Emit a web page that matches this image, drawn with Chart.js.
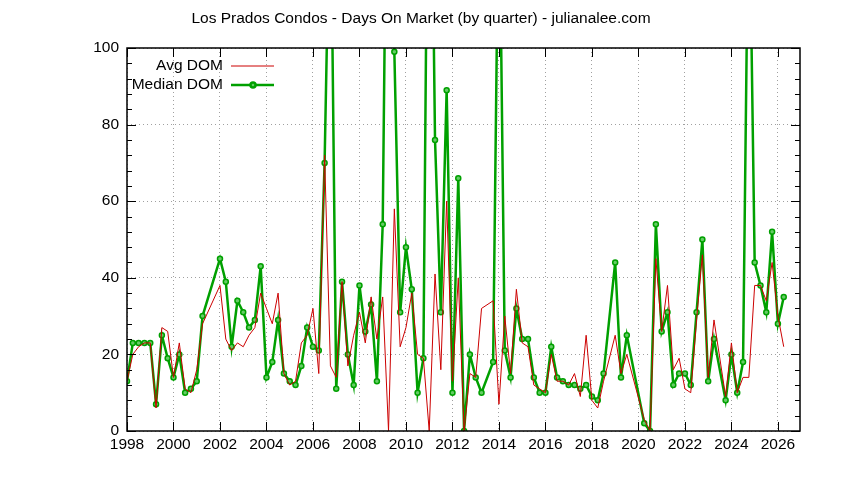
<!DOCTYPE html>
<html><head><meta charset="utf-8">
<script src="https://cdn.jsdelivr.net/npm/chart.js@4"></script>
<style>html,body{margin:0;background:#fff}#w{width:844px;height:480px}</style>
</head><body><div id="w"><canvas id="c"></canvas></div>
<script>
const quarters = [0,1,2,3,4,5,6,7,8,9,10,11,12,13,16,17,18,19,20,21,22,23,24,25,26,27,28,29,30,31,32,33,34,35,36,37,38,39,40,41,42,43,44,45,46,47,48,49,50,51,52,53,54,55,56,57,58,59,60,61,63,64,65,66,67,68,69,70,71,72,73,74,75,76,77,78,79,80,81,82,84,85,86,89,90,91,92,93,94,95,96,97,98,99,100,101,103,104,105,106,107,108,109,110,111,112,113];
const medianDOM = [13,23,23,23,23,7,25,19,14,20,10,11,13,30,45,39,22,34,31,27,29,43,14,18,29,15,13,12,17,27,22,21,70,150,11,39,20,12,38,26,33,13,54,200,99,31,48,37,10,19,200,76,31,89,10,66,0,20,14,10,18,150,21,14,32,24,24,14,10,10,22,14,13,12,12,11,12,9,8,15,44,14,25,2,0,54,26,31,12,15,15,12,31,50,13,24,8,20,10,18,150,44,38,31,52,28,35];
const avgDOM = [13,20,22,23,23,6,27,26,14,23,11,10,16,28,38,24,21,23,22,25,27,36,32,28,36,15,12,13,23,25,32,15,72,17,14,39,17,25,31,23,35,24,35,0,58,22,27,36,20,19,0,41,16,60,13,40,0,15,14,32,34,7,30,15,37,23,22,12,11,10,20,13,13,12,15,9,25,8,6,13,25,15,20,3,0,45,26,38,16,19,11,10,29,46,14,29,9,23,10,14,14,38,38,34,44,30,22];
const xTicks = [1998,2000,2002,2004,2006,2008,2010,2012,2014,2016,2018,2020,2022,2024,2026];
const yTicks = [0,20,40,60,80,100];
const years = quarters.map(q => 1998 + q/4);
const F = "'Liberation Sans', Arial, sans-serif";
const legendPlugin = {
  id:'lg',
  afterDraw(ch){
    const c = ch.ctx, a = ch.chartArea;
    c.save();
    c.font = '15.5px ' + F; c.fillStyle = '#000'; c.textAlign='center'; c.textBaseline='middle';
    c.fillText('Los Prados Condos - Days On Market (by quarter) - julianalee.com', 421, 19);
    c.textAlign='right';
    c.fillText('Avg DOM', 223, 66);
    c.fillText('Median DOM', 223, 85);
    c.strokeStyle = '#cc0000'; c.lineWidth = 1;
    c.beginPath(); c.moveTo(231,66); c.lineTo(274,66); c.stroke();
    c.strokeStyle = '#00a000'; c.lineWidth = 2.5;
    c.beginPath(); c.moveTo(231,85); c.lineTo(274,85); c.stroke();
    c.fillStyle='#66cc66'; c.beginPath(); c.arc(253,85,2.5,0,Math.PI*2); c.fill(); c.stroke();
    c.strokeStyle='#000'; c.lineWidth=1;
    const y = ch.scales.y;
    for(let v=0; v<=100; v+=4){
      const py = Math.round(y.getPixelForValue(v))+0.5;
      const len = (v%20===0)?9:5;
      c.beginPath(); c.moveTo(a.left,py); c.lineTo(a.left+len,py); c.moveTo(a.right,py); c.lineTo(a.right-len,py); c.stroke();
    }
    const x = ch.scales.x;
    for(const t of xTicks){
      const px = Math.round(x.getPixelForValue(t))+0.5;
      c.beginPath(); c.moveTo(px,a.bottom); c.lineTo(px,a.bottom-9); c.moveTo(px,a.top); c.lineTo(px,a.top+9); c.stroke();
    }
    c.lineWidth=1.5; c.strokeRect(a.left,a.top,a.right-a.left,a.bottom-a.top);
    c.restore();
  }
};
new Chart(document.getElementById('c'), {
  type:'line',
  data:{datasets:[
    {label:'Avg DOM', data: years.map((x,i)=>({x, y:avgDOM[i]})), borderColor:'#cc0000', borderWidth:1, pointRadius:0, tension:0},
    {label:'Median DOM', data: years.map((x,i)=>({x, y:medianDOM[i]})), borderColor:'#00a000', borderWidth:2.5, pointRadius:2.5, pointBorderWidth:1.5, pointBackgroundColor:'#66cc66', pointBorderColor:'#00a000', tension:0}
  ]},
  plugins:[legendPlugin],
  options:{
    responsive:true, maintainAspectRatio:false, animation:false,
    layout:{padding:{right:44, bottom:0, top:48}},
    plugins:{ legend:{display:false}, tooltip:{enabled:false}, title:{display:false} },
    scales:{
      x:{type:'linear', min:1998, max:2026.95, afterBuildTicks(s){s.ticks=xTicks.map(v=>({value:v}));},
        ticks:{color:'#000', font:{family:F,size:15.5}, autoSkip:false, maxRotation:0, padding:4, callback:v=>String(v)},
        grid:{color:'#a0a0a0', drawTicks:false}, border:{display:false, dash:[1,3]},
        afterFit(s){s.height=49;}},
      y:{min:0, max:100, afterBuildTicks(s){s.ticks=yTicks.map(v=>({value:v}));},
        ticks:{color:'#000', font:{family:F,size:15.5}, padding:8},
        grid:{color:'#a0a0a0', drawTicks:false}, border:{display:false, dash:[1,3]},
        afterFit(s){s.width=127;}}
    }
  }
});
</script></body></html>
